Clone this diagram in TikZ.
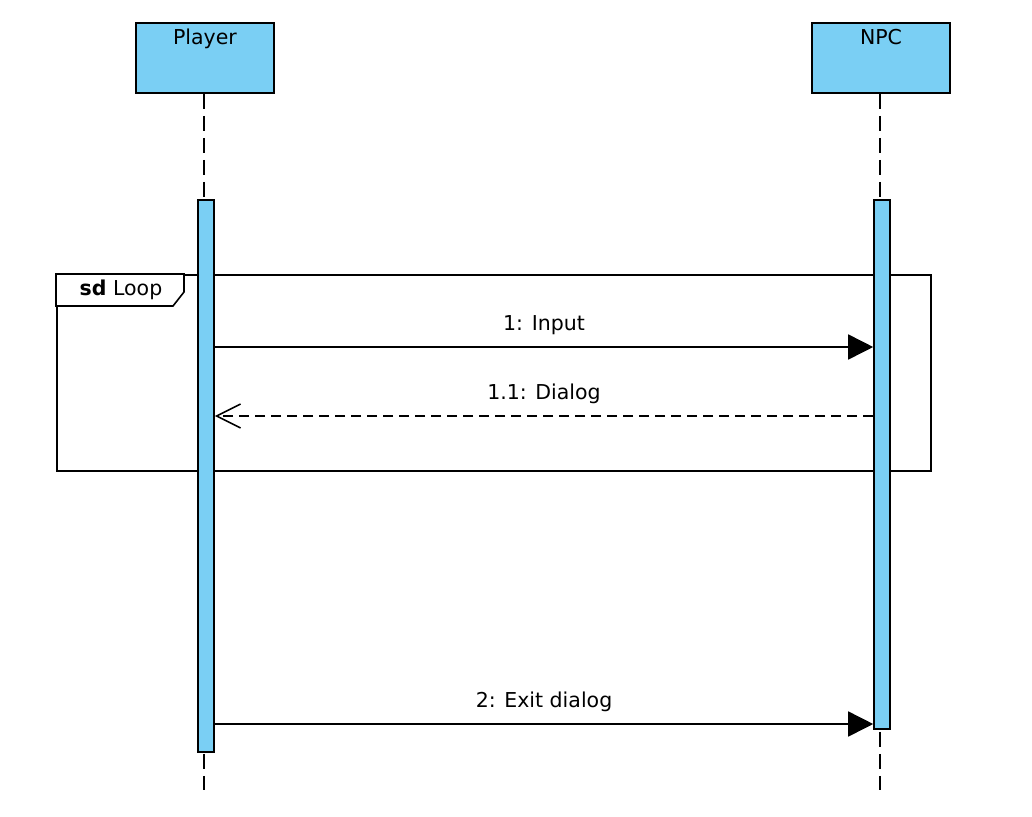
\documentclass[tikz,border=0pt]{standalone}
\usepackage{fontspec}
\setmainfont{DejaVu Sans}
\usetikzlibrary{arrows.meta}
\definecolor{actfill}{RGB}{122,207,244}
\tikzset{
  actorbox/.style={draw=black, line width=1.8pt, fill=actfill, rectangle, inner sep=0pt,
    minimum width=138pt, text height=22pt, text depth=48pt, anchor=north},
  actbar/.style={draw=black, line width=1.6pt, fill=actfill, rectangle, inner sep=0pt,
    minimum width=16pt, anchor=north},
  lifeline/.style={line width=1.8pt, dash pattern=on 15pt off 7pt},
  framebox/.style={draw=black, line width=1.6pt, rectangle, inner sep=0pt, anchor=north west},
  msg/.style={line width=1.6pt, -{Triangle[length=25pt,width=25pt]}},
  reply/.style={line width=1.6pt, dash pattern=on 10pt off 6pt, -{Straight Barb[length=24pt,width=24pt,line width=1.6pt]}},
  msglabel/.style={midway, anchor=base, yshift=17pt, inner sep=0pt}
}
\begin{document}
\begin{tikzpicture}[x=1pt, y=-1pt, font=\fontsize{20.5}{24}\selectfont]
\useasboundingbox (0,0) rectangle (1032,816);
% frame
\node[framebox, minimum width=874pt, minimum height=196pt] (frame) at (56,274) {};
\draw[line width=1.6pt, fill=white] (frame.north west) -- (184,274) -- (184,292) -- (173,306) -- (56,306) -- cycle;
\node[anchor=base, inner sep=0pt] (framelabel) at (121,295) {\textbf{sd} Loop};
% actors
\node[actorbox] (player) at (205,22) {Player};
\node[actorbox] (npc) at (881,22) {NPC};
% lifelines
\coordinate (pend) at (204,790);
\coordinate (nend) at (880,790);
\draw[lifeline] (player.south -| pend) -- (pend);
\draw[lifeline] (npc.south -| nend) -- (nend);
% activation bars
\node[actbar, minimum height=552pt] (pb) at (206,199) {};
\node[actbar, minimum height=529pt] (nb) at (882,199) {};
% messages
\coordinate (m1) at (0,347);
\coordinate (m2) at (0,416);
\coordinate (m3) at (0,724);
\draw[msg] (pb.east |- m1) -- (nb.west |- m1) node[msglabel] {1: Input};
\draw[reply] (nb.west |- m2) -- (pb.east |- m2) node[msglabel] {1.1: Dialog};
\draw[msg] (pb.east |- m3) -- (nb.west |- m3) node[msglabel] {2: Exit dialog};
\end{tikzpicture}
\end{document}
